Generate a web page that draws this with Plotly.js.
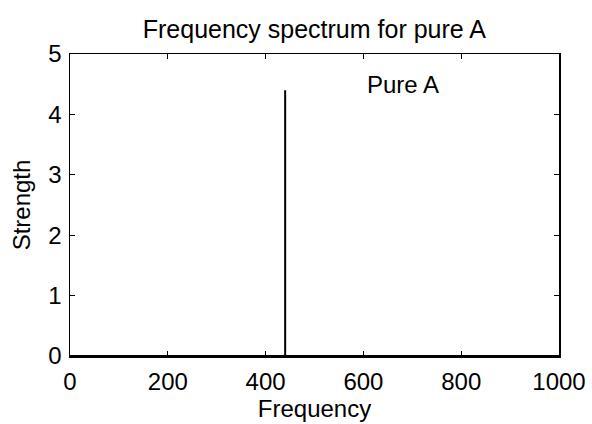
<!DOCTYPE html>
<html><head><meta charset="utf-8">
<script src="https://cdn.plot.ly/plotly-3.0.1.min.js"></script>
<style>html,body{margin:0;padding:0;background:#fff}</style>
</head><body>
<div id="chart" style="width:592px;height:424px"></div>
<script>
const frequency = [0, 440, 440, 440, 1000];
const strength = [0, 0, 4.4, 0, 0];
const xTicks = [0, 200, 400, 600, 800, 1000];
const yTicks = [0, 1, 2, 3, 4, 5];
const labelText = "Pure A";
const labelPos = {x: 681, y: 4.49};

const font = {family: "Liberation Sans, Arial, sans-serif", size: 24, color: "#000"};
const titleFont = Object.assign({}, font, {size: 25});
const axisCommon = {
  showgrid: false, zeroline: false, showline: true, mirror: "ticks",
  linecolor: "#000", linewidth: 1.5, ticks: "inside", ticklen: 5, tickcolor: "#000",
  tickwidth: 1, tickfont: font
};
Plotly.newPlot("chart", [{
  x: frequency, y: strength, type: "scatter", mode: "lines",
  line: {color: "#000", width: 2}, hoverinfo: "skip"
}], {
  width: 592, height: 424,
  margin: {l: 70, r: 33, t: 54, b: 68},
  paper_bgcolor: "#fff", plot_bgcolor: "#fff",
  font: font,
  title: {text: "Frequency spectrum for pure A", font: titleFont, x: 0.531, xanchor: "center", y: 0.93, yanchor: "middle"},
  xaxis: Object.assign({}, axisCommon, {range: [0, 1000], tickvals: xTicks, ticktext: xTicks.map(String),
    ticklabelstandoff: 4,
    title: {text: "Frequency", font: font, standoff: 4}}),
  yaxis: Object.assign({}, axisCommon, {range: [0, 5], tickvals: yTicks, ticktext: yTicks.map(String),
    ticklabelstandoff: 2,
    title: {text: "Strength", font: font, standoff: 11}}),
  annotations: [{x: labelPos.x, y: labelPos.y, xref: "x", yref: "y", text: labelText, showarrow: false, font: font}],
  showlegend: false
}, {displayModeBar: false, staticPlot: true});
</script>
</body></html>
